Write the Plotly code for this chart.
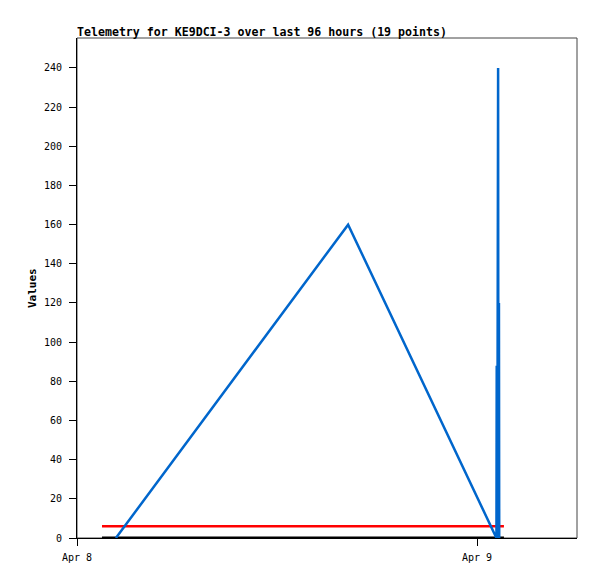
import plotly.graph_objects as go

title_text = "Telemetry for KE9DCI-3 over last 96 hours (19 points)"

blue_times = ["2024-04-08 02:20", "2024-04-08 16:16", "2024-04-09 01:10",
              "2024-04-09 01:11", "2024-04-09 01:13", "2024-04-09 01:16",
              "2024-04-09 01:17", "2024-04-09 01:19", "2024-04-09 01:20"]
blue_values = [0, 160, 0, 88, 0, 240, 0, 120, 0]

red_times = ["2024-04-08 01:30", "2024-04-09 01:37"]
red_values = [6, 6]

black_times = ["2024-04-08 01:30", "2024-04-09 01:37"]
black_values = [0, 0]

x_range = ["2024-04-08 00:00", "2024-04-09 06:00"]
y_range = [0, 255.3]

mono = "DejaVu Sans Mono"
OFF = 8  # page body offset

fig = go.Figure()
fig.add_trace(go.Scatter(x=black_times, y=black_values, mode="lines",
                         line=dict(color="#000000", width=3), showlegend=False))
fig.add_trace(go.Scatter(x=red_times, y=red_values, mode="lines",
                         line=dict(color="#FF0000", width=2.5), showlegend=False))
fig.add_trace(go.Scatter(x=blue_times, y=blue_values, mode="lines",
                         line=dict(color="#0066CC", width=2.5), showlegend=False))

fig.update_layout(
    width=597, height=579,
    margin=dict(l=77 - OFF, r=20 + OFF, t=38 - OFF, b=41 + OFF),
    paper_bgcolor="white", plot_bgcolor="white",
    font=dict(family=mono, size=10, color="black"),
    title=dict(text="<b>" + title_text + "</b>", x=(77 - OFF) / 597, xanchor="left",
               xref="container", y=1 - (36 - OFF) / 579, yanchor="bottom", yref="container",
               pad=dict(t=0, b=0, l=0, r=0),
               font=dict(family=mono, size=11.6, color="black")),
    xaxis=dict(type="date", range=x_range, showgrid=False, zeroline=False,
               showline=True, linecolor="black", linewidth=1,
               ticks="outside", ticklen=7, tickcolor="black", tickwidth=1,
               dtick=86400000, tickformat="%b %-d", ticklabelstandoff=3,
               tickfont=dict(family=mono, size=10)),
    yaxis=dict(range=y_range, showgrid=False, zeroline=False,
               showline=True, linecolor="black", linewidth=1,
               ticks="outside", ticklen=7, tickcolor="black", tickwidth=1,
               dtick=20, tick0=0, ticklabelstandoff=5,
               tickfont=dict(family=mono, size=10)),
    shapes=[dict(type="rect", xref="paper", yref="paper", x0=0, x1=1, y0=0, y1=1,
                 line=dict(color="#444444", width=1), fillcolor="rgba(0,0,0,0)",
                 layer="below")],
    annotations=[dict(text="<b>Values</b>", xref="paper", yref="paper",
                      x=(32 - 77) / 500, y=0.5, textangle=-90, showarrow=False,
                      xanchor="center", yanchor="middle",
                      font=dict(family=mono, size=11, color="black"))],
)

fig.write_html("out.html")
